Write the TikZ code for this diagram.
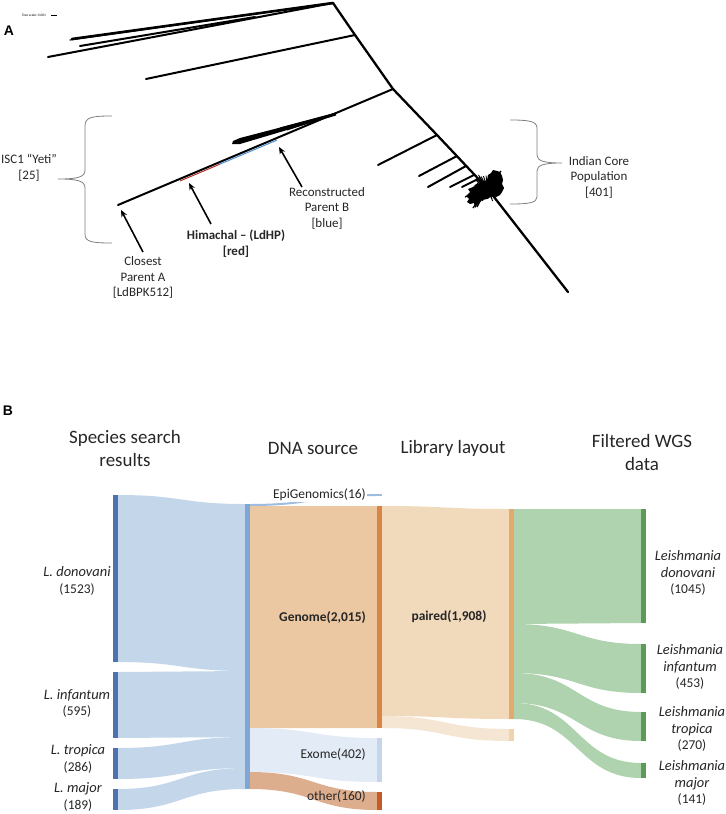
\documentclass[tikz,border=0pt]{standalone}
\usepackage{fontspec}
\setmainfont{Carlito}
\newfontfamily\panelfont{Liberation Sans}
\usetikzlibrary{arrows.meta,calc}
\definecolor{bDark}{HTML}{4E72B0}
\definecolor{bFlow}{HTML}{C3D6EA}
\definecolor{bMid}{HTML}{7FA6D4}
\definecolor{gFlow}{HTML}{EBC8A2}
\definecolor{gBar}{HTML}{DA8543}
\definecolor{eFlow}{HTML}{E3EBF6}
\definecolor{eBar}{HTML}{C5D5EC}
\definecolor{oFlow}{HTML}{DDAE8E}
\definecolor{oBar}{HTML}{C65B27}
\definecolor{epiC}{HTML}{9DBCE0}
\definecolor{pFlow}{HTML}{F1D9BB}
\definecolor{sFlow}{HTML}{F5E6D3}
\definecolor{pBar}{HTML}{E4A96C}
\definecolor{sBar}{HTML}{F0D2AE}
\definecolor{grFlow}{HTML}{AED3AE}
\definecolor{grBar}{HTML}{5C9B57}
\definecolor{txt}{HTML}{262626}
\definecolor{segRed}{HTML}{B0302A}
\definecolor{segBlue}{HTML}{4A8FD8}
\newcommand\skflow[7]{%
  \fill[#1] (#2,#3) .. controls ({(#2+#5)/2},#3) and ({(#2+#5)/2},#6) .. (#5,#6)
    -- (#5,#7) .. controls ({(#2+#5)/2},#7) and ({(#2+#5)/2},#4) .. (#2,#4) -- cycle;}
\tikzset{
  br/.style={line width=2pt, line cap=round},
  lbl/.style={font=\fontsize{13}{15.5}\selectfont, align=center, inner sep=0pt, text=txt},
  brc/.style={draw=gray, line width=0.8pt},
  arr/.style={-{Stealth[length=7pt,width=6pt]}, line width=1.6pt},
  ttl/.style={font=\fontsize{19}{23}\selectfont, align=center, inner sep=0pt, text=txt},
  slbl/.style={font=\fontsize{13.5}{16}\selectfont, align=center, inner sep=0pt, text=txt},
  ilbl/.style={font=\fontsize{14.5}{16.3}\selectfont, align=center, inner sep=0pt, text=txt},
  plbl/.style={font=\panelfont\bfseries\fontsize{14}{14}\selectfont, inner sep=0pt},
}
\begin{document}
\begin{tikzpicture}[x=1bp,y=-1bp]
\useasboundingbox (0,0) rectangle (726,814);
\fill[white] (0,0) rectangle (726,814);

% ---------------- Panel A ----------------
\node[plbl] (pA) at (9,31) {A};
\node[font=\fontsize{3.5}{4}\selectfont, inner sep=0pt] (tscale) at (34,15) {Tree scale: 0.001};
\coordinate (sb1) at (51,15); \coordinate (sb2) at (57,15);
\draw[line width=0.3pt] (sb1) -- (sb2);

% backbone
\coordinate (T0) at (333,3);
\coordinate (J1) at (355,35);
\coordinate (J2) at (393,89);
\coordinate (J3) at (437,135);
\coordinate (J4) at (457,156);
\coordinate (J5) at (466,166);
\coordinate (J6) at (474,175);
\coordinate (J7) at (478,179);
\coordinate (JB) at (487,188);
\coordinate (EE) at (568,292);
\draw[br, line width=2.3pt] (T0) -- (J1) -- (J2) -- (J3) -- (JB) -- (EE);

% top clade
\coordinate (L1) at (48,57);
\coordinate (L2) at (72,39);
\coordinate (L3) at (80,46);
\coordinate (S2) at (290,9);
\coordinate (S3) at (255,17);
\draw[br] (T0) -- (L1);
\draw[br, line width=2.6pt] (T0) -- (L2);
\draw[br, line width=1.2pt] (S2) -- (70,40);
\draw[br] (S3) -- (L3);
% second branch
\coordinate (L4) at (146,79);
\draw[br] (J1) -- (L4);
% ISC1 branch
\coordinate (L5) at (118,205);
\draw[br] (J2) -- (L5);
\coordinate (R1) at (180,179.8);
\coordinate (R2) at (220,162.9);
\coordinate (B2) at (277,138.9);
\draw[segRed, line width=1pt] ($(R1)+(0,1.2)$) -- ($(R2)+(0,1.2)$);
\draw[segBlue, line width=1pt] ($(R2)+(0,1.2)$) -- ($(B2)+(0,1.2)$);
% fan on ISC1 branch
\coordinate (F0) at (336,113);
\fill (F0) -- (240,138) -- (233,141) -- (232,144) -- (240,144) -- (336,115.5) -- cycle;
\draw[line width=1pt] (F0) -- (280,128);
\draw[line width=1pt] (F0) -- (287,130);
% core sub-branches
\draw[br] (J3) -- (378,165);
\draw[br] (J4) -- (419,176);
\draw[br] (J5) -- (428,187);
\draw[br] (J6) -- (450,187);
\draw[br] (J7) -- (462,187);
% blob
\fill[line join=round] (493,170) -- (497,171) -- (500,172) -- (502,176) -- (503,180) -- (502,184)
  -- (504,188) -- (502,192) -- (500,195) -- (496,197) -- (492,196) -- (487,199) -- (482,200)
  -- (478,204) -- (475,208) -- (474,203) -- (470,204) -- (467,202) -- (469,199) -- (466,196)
  -- (470,192) -- (468,189) -- (473,187) -- (476,184) -- (481,184) -- (484,181) -- (487,180)
  -- (488,175) -- (491,173) -- cycle;
\pgfmathsetseed{11}
\foreach \k in {1,...,40} {
  \pgfmathsetmacro{\ang}{rnd*360}
  \pgfmathsetmacro{\rr}{9+rnd*7}
  \draw[line width=0.9pt] (487,188) -- ++({\rr*cos(\ang)},{\rr*sin(\ang)});
}
\foreach \bx/\by in {501/171, 473/208, 477/207, 465/197} {
  \draw[line width=1.3pt] (JB) -- (\bx,\by);
}

% braces
\draw[brc] (112,116) .. controls (92,116) and (85,117) .. (85,126) -- (85,170)
  .. controls (85,177) and (78,179) .. (58,179)
  .. controls (78,179) and (85,181) .. (85,188) -- (85,234)
  .. controls (85,242) and (92,243) .. (112,243);
\draw[brc] (510,120) .. controls (528,120) and (537,121) .. (537,128) -- (537,155)
  .. controls (537,161) and (544,163) .. (562,163)
  .. controls (544,163) and (537,165) .. (537,171) -- (537,197)
  .. controls (537,203) and (528,204) .. (510,204);

% labels and arrows
\node[lbl] (isc) at (29,167.5) {ISC1 “Yeti”\\{[}25{]}};
\node[lbl] (cpa) at (143,277.5) {Closest\\Parent A\\{[}LdBPK512{]}};
\node[lbl, font=\bfseries\fontsize{13}{15.5}\selectfont] (him) at (236,243.5) {Himachal – (LdHP)\\{[}red{]}};
\node[lbl] (rpb) at (327,208) {Reconstructed\\Parent B\\{[}blue{]}};
\node[lbl] (icp) at (599,177) {Indian Core\\Population\\{[}401{]}};
\coordinate (aA1) at (143,252); \coordinate (aA2) at (121,210);
\coordinate (aH1) at (211,224); \coordinate (aH2) at (189,183);
\coordinate (aB1) at (302,187); \coordinate (aB2) at (279,147);
\draw[arr] (aA1) -- (aA2);
\draw[arr] (aH1) -- (aH2);
\draw[arr] (aB1) -- (aB2);

% ---------------- Panel B ----------------
\node[plbl] (pB) at (8,411) {B};
\node[ttl] (t1) at (125,448.5) {Species search\\results};
\node[ttl] (t2) at (313,448) {DNA source};
\node[ttl] (t3) at (453,448) {Library layout};
\node[ttl] (t4) at (642,452.5) {Filtered WGS\\data};

% flows col1 -> col2
\skflow{bFlow}{118}{495}{662}{245}{504}{671}
\skflow{bFlow}{118}{672}{738}{245}{671}{737}
\skflow{bFlow}{118}{748}{779}{245}{737}{768}
\skflow{bFlow}{118}{789}{810}{245}{768}{789}
% flows col2 -> col3
\skflow{epiC}{250}{504}{506}{377}{494}{496}
\skflow{gFlow}{250}{506}{728}{377}{506}{728}
\skflow{eFlow}{250}{728}{772}{377}{738}{782}
\skflow{oFlow}{250}{772}{789}{377}{792}{810}
% flows col3 -> col4
\skflow{pFlow}{382}{506}{716}{509}{509}{719}
\skflow{sFlow}{382}{716}{728}{509}{729}{741}
% flows col4 -> col5
\skflow{grFlow}{514}{509}{624}{641}{509}{623}
\skflow{grFlow}{514}{624}{673}{641}{644}{693}
\skflow{grFlow}{514}{673}{703}{641}{712}{741}
\skflow{grFlow}{514}{703}{719}{641}{763}{778}

% bars
\fill[bDark] (113,495) rectangle (118,662);
\fill[bDark] (113,672) rectangle (118,738);
\fill[bDark] (113,748) rectangle (118,779);
\fill[bDark] (113,789) rectangle (118,810);
\fill[bMid] (245,504) rectangle (250,789);
\fill[epiC] (377,494) rectangle (382,496);
\fill[gBar] (377,506) rectangle (382,728);
\fill[eBar] (377,738) rectangle (382,782);
\fill[oBar] (377,792) rectangle (382,810);
\fill[pBar] (509,509) rectangle (514,719);
\fill[sBar] (509,729) rectangle (514,741);
\fill[grBar] (641,509) rectangle (646,623);
\fill[grBar] (641,644) rectangle (646,693);
\fill[grBar] (641,712) rectangle (646,741);
\fill[grBar] (641,763) rectangle (646,778);

% column 1 labels
\node[ilbl] (s1) at (77,581) {\itshape L. donovani\\\fontsize{13.5}{16}\selectfont(1523)};
\node[ilbl] (s2) at (77,703.5) {\itshape L. infantum\\\fontsize{13.5}{16}\selectfont(595)};
\node[ilbl] (s3) at (78,759) {\itshape L. tropica\\\fontsize{13.5}{16}\selectfont(286)};
\node[ilbl] (s4) at (78,797) {\itshape L. major\\\fontsize{13.5}{16}\selectfont(189)};
% column 3 labels
\node[slbl, anchor=east, fill=white, inner sep=1pt] (d1) at (367,495) {EpiGenomics(16)};
\node[slbl, anchor=east, font=\bfseries\fontsize{13.5}{16}\selectfont] (d2) at (366,618) {Genome(2,015)};
\node[slbl, anchor=east] (d3) at (366,755) {Exome(402)};
\node[slbl, anchor=east] (d4) at (366,797) {other(160)};
% column 4 label
\node[slbl, font=\bfseries\fontsize{13.5}{16}\selectfont] (l1) at (449,617) {paired(1,908)};
% column 5 labels
\node[ilbl] (f1) at (688,573) {\itshape Leishmania\\\itshape donovani\\\fontsize{13.5}{16}\selectfont(1045)};
\node[ilbl] (f2) at (690,667) {\itshape Leishmania\\\itshape infantum\\\fontsize{13.5}{16}\selectfont(453)};
\node[ilbl] (f3) at (692,729) {\itshape Leishmania\\\itshape tropica\\\fontsize{13.5}{16}\selectfont(270)};
\node[ilbl] (f4) at (692,783) {\itshape Leishmania\\\itshape major\\\fontsize{13.5}{16}\selectfont(141)};
\end{tikzpicture}
\end{document}
